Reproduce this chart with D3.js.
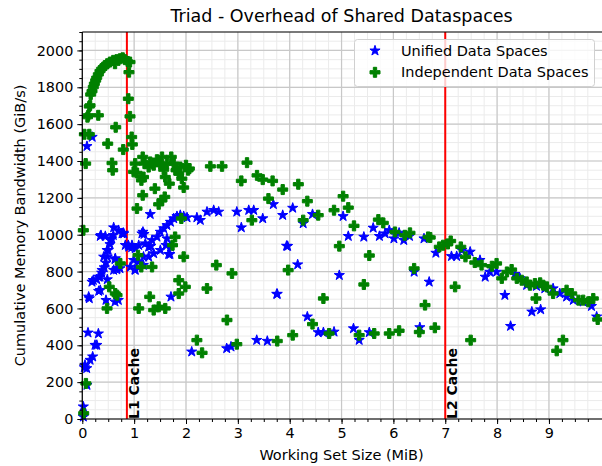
<!DOCTYPE html>
<html>
<head>
<meta charset="utf-8">
<script src="https://cdn.jsdelivr.net/npm/d3@7"></script>
<style>
	body { margin: 0; background: #fff; }
	svg text { font-family: "DejaVu Sans", sans-serif; fill: #000; }
</style>
</head>
<body>
<div id="chart"></div>
<script>

var title = "Triad - Overhead of Shared Dataspaces";
var xLabel = "Working Set Size (MiB)";
var yLabel = "Cumulative Memory Bandwidth (GiB/s)";
var seriesNames = ["Unified Data Spaces", "Independent Data Spaces"];
var xTicks = [0, 1, 2, 3, 4, 5, 6, 7, 8, 9];
var yTicks = [0, 200, 400, 600, 800, 1000, 1200, 1400, 1600, 1800, 2000];
var cacheLines = [{name: "L1 Cache", x: 0.86}, {name: "L2 Cache", x: 7.0}];

// [working set MiB, bandwidth GiB/s]
var unifiedPoints = [
	[0.02,12],[0.02,67],[0.04,280],[0.052,293],[0.09,184],[0.085,275],[0.11,468],[0.15,320],[0.2,338],
	[0.245,401],[0.28,401],[0.31,463],[0.135,654],[0.316,694],[0.212,753],[0.278,757],[0.341,771],
	[0.374,793],[0.424,822],[0.457,847],[0.482,880],[0.5,916],[0.534,948],[0.567,979],[0.598,997],
	[0.36,997],[0.457,645],[0.482,757],[0.631,636],[0.694,645],[0.663,811],[0.727,817],[0.631,866],
	[0.79,1010],[0.887,943],[0.952,931],[1.016,811],[1.19,1003],[1.177,835],[1.32,938],[1.614,943],
	[1.69,894],[1.71,663],[2.11,365],[2.785,383],[2.868,392],[3.364,428],[3.568,423],[3.75,678],
	[3.94,939],[4.154,838],[0.09,1480],[0.19,1530],[1.31,1111],[0.347,992],[0.444,992],[0.605,1039],
	[0.70,1024],[0.766,1006],[0.83,943],[0.895,934],[0.958,943],[1.022,925],[1.088,943],[1.15,1006],
	[1.215,952],[1.28,934],[1.344,970],[1.44,988],[1.505,1015],[1.57,1034],[1.633,1051],[1.70,1069],
	[1.763,1088],[1.826,1100],[1.89,1106],[1.955,1100],[2.02,1093],[2.21,1093],[2.276,1079],
	[2.405,1124],[2.534,1133],[2.63,1124],[2.98,1124],[3.21,1133],[3.306,1133],[3.067,1039],
	[0.99,862],[0.926,825],[0.636,871],[0.67,817],[0.605,808],[1.666,894],[1.70,934],[1.633,979],
	[1.505,916],[1.377,898],[1.28,880],[1.18,880],[1.088,853],[1.02,808],[0.413,880],[0.477,916],
	[0.54,970],[0.38,808],[0.316,771],[0.187,744],[0.347,699],[0.123,663],[0.80,1006],[1.17,1015],
	[3.48,1088],[3.685,1165],[3.865,1106],[4.058,1145],[4.26,1061],[4.44,1111],[5.03,1100],[5.13,992],
	[5.43,988],[5.61,1037],[5.73,992],[5.84,1006],[5.92,1024],[6.01,979],[6.11,1010],[6.20,970],
	[6.31,992],[6.59,979],[6.40,798],[6.69,744],[3.96,938],[4.957,780],[3.76,678],[4.34,555],
	[4.55,470],[4.65,470],[4.855,473],[5.23,491],[5.34,428],[5.535,470],[6.51,497],[6.82,901],
	[7.12,883],[7.22,883],[7.32,916],[7.48,907],[7.67,862],[7.77,771],[7.86,798],[7.99,798],
	[8.15,672],[8.345,786],[8.44,763],[8.57,726],[8.76,721],[8.92,708],[9.08,708],[9.21,681],
	[9.34,663],[9.47,645],[9.66,636],[9.82,612],[9.92,555],[8.67,582],[8.84,594],[8.26,504]
];

var independentPoints = [
	[0.10,1638],[0.116,1648],[0.135,1696],[0.15,1702],[0.162,1761],[0.187,1779],[0.212,1801],
	[0.232,1819],[0.258,1837],[0.278,1852],[0.309,1870],[0.341,1888],[0.374,1900],[0.405,1909],
	[0.438,1918],[0.482,1928],[0.534,1937],[0.598,1946],[0.631,1928],[0.663,1950],[0.727,1955],
	[0.779,1960],[0.823,1950],[0.875,1940],[0.92,1937],[0.90,1882],[0.888,1738],[0.92,1642],
	[0.952,1530],[0.965,1490],[0.309,1648],[0.644,1583],[0.49,1494],[0.573,1389],[0.586,1350],
	[0.79,1462],[0.065,1386],[0.04,1545],[0.135,1545],[0.02,1024],
	[1.02,1386],[0.99,1341],[1.055,1335],[1.165,1422],[1.14,1295],[1.20,1386],[1.18,1313],
	[1.28,1367],[1.31,1395],[1.377,1377],[1.40,1250],[1.44,1407],[1.505,1386],[1.537,1422],
	[1.57,1353],[1.60,1313],[1.633,1386],[1.678,1277],[1.716,1422],[1.763,1386],[1.807,1350],
	[1.86,1332],[1.92,1304],[1.955,1256],[2.0,1377],[2.04,1350],[1.89,1367],[2.065,1359],
	[1.537,1187],[1.473,1165],[1.59,1205],[1.165,1214],[1.055,1142],[2.47,1371],[2.695,1371],
	[3.177,1391],[3.067,1292],[3.37,1322],
	[1.91,1088],[3.27,1079],[1.79,988],[1.74,943],[1.074,889],[1.955,880],[0.733,844],[1.138,825],
	[1.345,825],[2.585,835],[2.887,790],[1.86,753],[1.987,717],[2.405,708],[0.52,717],[0.636,681],
	[1.86,681],[1.30,663],[0.67,672],[0.477,600],[1.088,600],[1.377,591],[1.473,609],[1.60,600],
	[2.79,537],[2.21,428],[2.31,359],[2.98,406],[0.07,193],[0.027,31],
	[3.48,1299],[3.67,1292],[3.865,1245],[4.166,1274],[3.59,1196],[4.34,1182],[4.26,1079],
	[4.55,1106],[4.855,1133],[5.03,1209],[5.13,1147],[5.24,1048],[5.71,1082],[5.805,1064],
	[6.03,1015],[6.22,997],[6.32,1010],[6.67,988],[4.957,938],[5.535,887],[3.97,808],[6.40,817],
	[5.43,730],[4.65,654],[4.44,515],[4.76,464],[5.34,455],[5.63,464],[5.92,464],[6.11,479],
	[6.50,472],[6.61,618],[6.80,495],[7.19,717],[7.49,428],[9.15,370],[9.27,428],[8.75,654],
	[9.94,540],[3.76,423],[4.058,455],
	[6.71,985],[6.885,934],[6.96,943],[7.05,950],[7.105,966],[7.30,934],[7.39,880],[7.57,849],
	[7.70,835],[7.90,829],[7.99,844],[8.09,763],[8.19,798],[8.28,811],[8.38,763],[8.475,753],
	[8.57,744],[8.635,726],[8.73,735],[8.83,739],[8.89,726],[8.96,717],[9.08,681],[9.34,699],
	[9.44,681],[9.57,645],[9.66,645],[9.76,636],[9.855,654]
];

var seriesColors = ["#0000ff", "#008000"];


var width = 602, height = 466,
	margin = {top: 32, right: 1, bottom: 47, left: 82.3};

var svg = d3.select("#chart")
	.append("svg")
	.attr("width", width)
	.attr("height", height);

var x = d3.scaleLinear().domain([0, 10]).range([margin.left, 600.8]);
var y = d3.scaleLinear().domain([0, 2100]).range([height - margin.bottom, margin.top]);

var xMinor = d3.range(0, 40).map(function(i) { return i * 0.25; });
var yMinor = d3.range(0, 43).map(function(i) { return i * 50; });

// grid
var grid = svg.append("g");

grid.selectAll(".xminor").data(xMinor).enter().append("line")
	.attr("x1", function(d) { return x(d); }).attr("x2", function(d) { return x(d); })
	.attr("y1", y(0)).attr("y2", y(2100))
	.attr("stroke", "#ebebeb").attr("stroke-width", 1);

grid.selectAll(".yminor").data(yMinor).enter().append("line")
	.attr("x1", x(0)).attr("x2", width)
	.attr("y1", function(d) { return y(d); }).attr("y2", function(d) { return y(d); })
	.attr("stroke", "#ebebeb").attr("stroke-width", 1);

grid.selectAll(".xmajor").data(xTicks).enter().append("line")
	.attr("x1", function(d) { return x(d); }).attr("x2", function(d) { return x(d); })
	.attr("y1", y(0)).attr("y2", y(2100))
	.attr("stroke", "#c8c8c8").attr("stroke-width", 1.2);

grid.selectAll(".ymajor").data(yTicks).enter().append("line")
	.attr("x1", x(0)).attr("x2", width)
	.attr("y1", function(d) { return y(d); }).attr("y2", function(d) { return y(d); })
	.attr("stroke", "#c8c8c8").attr("stroke-width", 1.2);

// cache lines
svg.selectAll(".cache").data(cacheLines).enter().append("line")
	.attr("x1", function(d) { return x(d.x); }).attr("x2", function(d) { return x(d.x); })
	.attr("y1", y(0)).attr("y2", y(2100))
	.attr("stroke", "#ff0000").attr("stroke-width", 2);

// markers
var star = d3.symbol().type(d3.symbolStar).size(32)();
var plus = (function(s) {
	var a = s / 2, b = s / 6;
	return "M" + [[-b,-a],[b,-a],[b,-b],[a,-b],[a,b],[b,b],[b,a],[-b,a],[-b,b],[-a,b],[-a,-b],[-b,-b]]
		.map(function(p) { return p.join(","); }).join("L") + "Z";
})(10);
var shapes = [star, plus];

[unifiedPoints, independentPoints].forEach(function(points, i) {
	svg.append("g").selectAll("path")
		.data(points)
		.enter().append("path")
		.attr("d", shapes[i])
		.attr("transform", function(d) { return "translate(" + x(d[0]) + "," + y(d[1]) + ")"; })
		.attr("fill", seriesColors[i])
		.attr("stroke", seriesColors[i])
		.attr("stroke-width", 1)
		.attr("stroke-linejoin", "round");
});

svg.selectAll(".cachelabel").data(cacheLines).enter().append("text")
	.attr("transform", function(d) { return "translate(" + (x(d.x) + 12) + "," + y(0) + ") rotate(-90)"; })
	.style("font-size", "14px")
	.style("font-weight", "bold")
	.text(function(d) { return d.name; });

// axes
svg.append("g")
	.attr("transform", "translate(0," + y(0) + ")")
	.call(d3.axisBottom(x).tickValues(xTicks).tickSize(5).tickPadding(4).tickFormat(d3.format("d")));

svg.append("g")
	.attr("transform", "translate(0," + y(0) + ")")
	.call(d3.axisBottom(x).tickValues(xMinor).tickSize(3).tickFormat(""));

svg.append("g")
	.attr("transform", "translate(" + x(0) + ",0)")
	.call(d3.axisLeft(y).tickValues(yTicks).tickSize(5).tickPadding(4).tickFormat(d3.format("d")));

svg.append("g")
	.attr("transform", "translate(" + x(0) + ",0)")
	.call(d3.axisLeft(y).tickValues(yMinor).tickSize(3).tickFormat(""));

svg.selectAll(".domain").remove();
svg.selectAll(".tick line").attr("stroke", "#000").attr("stroke-width", 1);
svg.selectAll(".tick text").style("font-size", "14.4px").style("font-family", "DejaVu Sans").attr("fill", "#000");

// spines
svg.append("line").attr("x1", x(0)).attr("x2", x(0)).attr("y1", y(0)).attr("y2", y(2100))
	.attr("stroke", "#000").attr("stroke-width", 1.2);
svg.append("line").attr("x1", x(0)).attr("x2", width).attr("y1", y(0)).attr("y2", y(0))
	.attr("stroke", "#000").attr("stroke-width", 1.2);
svg.append("line").attr("x1", x(0)).attr("x2", width).attr("y1", y(2100)).attr("y2", y(2100))
	.attr("stroke", "#000").attr("stroke-width", 1.2);

// legend
var legend = svg.append("g");

legend.append("rect")
	.attr("x", 354.5).attr("y", 39.5)
	.attr("width", 240).attr("height", 47)
	.attr("rx", 3)
	.attr("fill", "#fff").attr("fill-opacity", 0.8)
	.attr("stroke", "#d0d0d0");

var legendItem = legend.selectAll(".legend-item")
	.data(seriesNames)
	.enter().append("g")
	.attr("transform", function(d, i) { return "translate(375," + (50.7 + i * 21.6) + ")"; });

legendItem.append("path")
	.attr("d", function(d, i) { return shapes[i]; })
	.attr("fill", function(d, i) { return seriesColors[i]; })
	.attr("stroke", function(d, i) { return seriesColors[i]; })
	.attr("stroke-width", 1);

legendItem.append("text")
	.attr("x", 26).attr("y", 5)
	.style("font-size", "14.5px")
	.text(function(d) { return d; });

// titles
svg.append("text")
	.attr("x", (x(0) + 600.8) / 2).attr("y", 22)
	.attr("text-anchor", "middle")
	.style("font-size", "17.5px")
	.text(title);

svg.append("text")
	.attr("x", (x(0) + 600.8) / 2).attr("y", 460)
	.attr("text-anchor", "middle")
	.style("font-size", "14.5px")
	.text(xLabel);

svg.append("text")
	.attr("transform", "translate(25," + ((y(0) + y(2100)) / 2) + ") rotate(-90)")
	.attr("text-anchor", "middle")
	.style("font-size", "14.5px")
	.text(yLabel);

</script>
</body>
</html>
